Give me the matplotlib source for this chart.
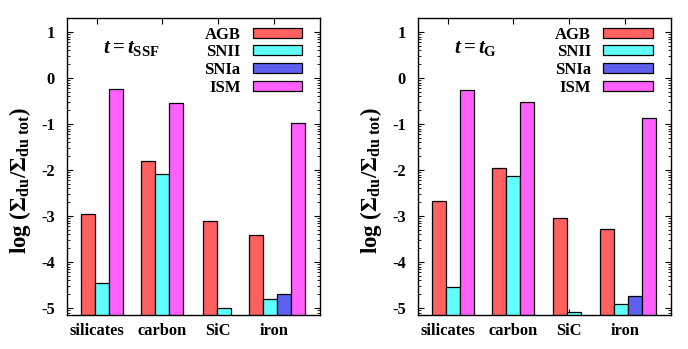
import numpy as np
import matplotlib
matplotlib.use('Agg')
import matplotlib.pyplot as plt

plt.rcParams['font.family'] = ['Liberation Serif', 'DejaVu Serif']
plt.rcParams['font.weight'] = 'bold'
plt.rcParams['axes.unicode_minus'] = False
plt.rcParams['mathtext.fontset'] = 'custom'
plt.rcParams['mathtext.rm'] = 'Liberation Serif:bold'
plt.rcParams['mathtext.it'] = 'Liberation Serif:bold:italic'
plt.rcParams['mathtext.bf'] = 'Liberation Serif:bold'

nan = np.nan

# data (log of dust surface density fraction)
categories = ['silicates', 'carbon', 'SiC', 'iron']
sources = ['AGB', 'SNII', 'SNIa', 'ISM']

# t = t_SSF
ssf_agb = [-2.95, -1.80, -3.11, -3.41]
ssf_snii = [-4.45, -2.09, -4.99, -4.81]
ssf_snia = [nan, nan, nan, -4.70]
ssf_ism = [-0.24, -0.53, nan, -0.97]

# t = t_G
g_agb = [-2.67, -1.95, -3.05, -3.28]
g_snii = [-4.55, -2.12, -5.09, -4.90]
g_snia = [nan, nan, nan, -4.73]
g_ism = [-0.26, -0.52, nan, -0.87]

colors = ['#ff6060', '#60ffff', '#6060f0', '#ff60ff']

# layout (units of one bar width)
group_start = [0.96, 5.26, 9.67, 13.0]
tick_pos = [2.1, 6.79, 10.79, 14.79]
xmax = 18.09
ymin, ymax = -5.15, 1.30
base = -7.0


def draw_panel(ax, series, label_text):
    ax.set_axisbelow(True)
    handles = []
    for gi in range(len(categories)):
        x = group_start[gi]
        for si, vals in enumerate(series):
            v = vals[gi]
            if np.isnan(v):
                continue
            ax.bar(x, v - base, bottom=base, width=1.0, align='edge',
                   color=colors[si], edgecolor='black', linewidth=0.9)
            x += 1
    for si, name in enumerate(sources):
        h = ax.bar([0], [0], bottom=-20, color=colors[si], edgecolor='black',
                   linewidth=0.9, label=name)
        handles.append(h)
    ax.set_xlim(0, xmax)
    ax.set_ylim(ymin, ymax)

    ax.set_xticks(tick_pos)
    ax.set_xticklabels(categories, fontsize=11.8, fontweight='bold')
    ax.set_yticks(np.arange(-5, 2))
    ax.set_yticklabels([str(v) for v in range(-5, 2)], fontsize=11.8, fontweight='bold')
    minors = []
    for d in range(-6, 2):
        for k in range(2, 10):
            m = d + np.log10(k)
            if ymin < m < ymax:
                minors.append(m)
    ax.set_yticks(minors, minor=True)
    ax.tick_params(axis='both', which='major', direction='in', length=4,
                   width=0.8, top=True, right=True)
    ax.tick_params(axis='y', which='minor', direction='in', length=2.2,
                   width=0.6, right=True, left=True)
    ax.tick_params(axis='x', which='major', pad=6)
    ax.tick_params(axis='y', which='major', pad=9)
    for sp in ax.spines.values():
        sp.set_linewidth(1.0)

    ax.set_ylabel(r'log ($\Sigma_{\rm du}/\Sigma_{\rm du\ tot}$)', fontsize=16.5,
                  fontweight='bold')
    ax.yaxis.set_label_coords(-0.135, 0.455)

    ax.text(0.14, 0.9, label_text, transform=ax.transAxes, fontsize=15,
            ha='left', va='center')

    ax.legend(handles=handles, loc='upper right', bbox_to_anchor=(0.928, 0.972),
              frameon=False, markerfirst=False, handlelength=2.95,
              handleheight=0.55, handletextpad=0.75, labelspacing=0.1,
              borderpad=0, borderaxespad=0, prop={'weight': 'bold', 'size': 12})


fig = plt.figure(figsize=(6.88, 3.49), dpi=100)
ax1 = fig.add_axes([0.0978, 0.0974, 0.368, 0.850])
ax2 = fig.add_axes([0.608, 0.0974, 0.367, 0.850])

draw_panel(ax1, [ssf_agb, ssf_snii, ssf_snia, ssf_ism], r'$t = t_{\rm SSF}$')
draw_panel(ax2, [g_agb, g_snii, g_snia, g_ism], r'$t = t_{\rm G}$')

fig.savefig('out.png', dpi=100)
